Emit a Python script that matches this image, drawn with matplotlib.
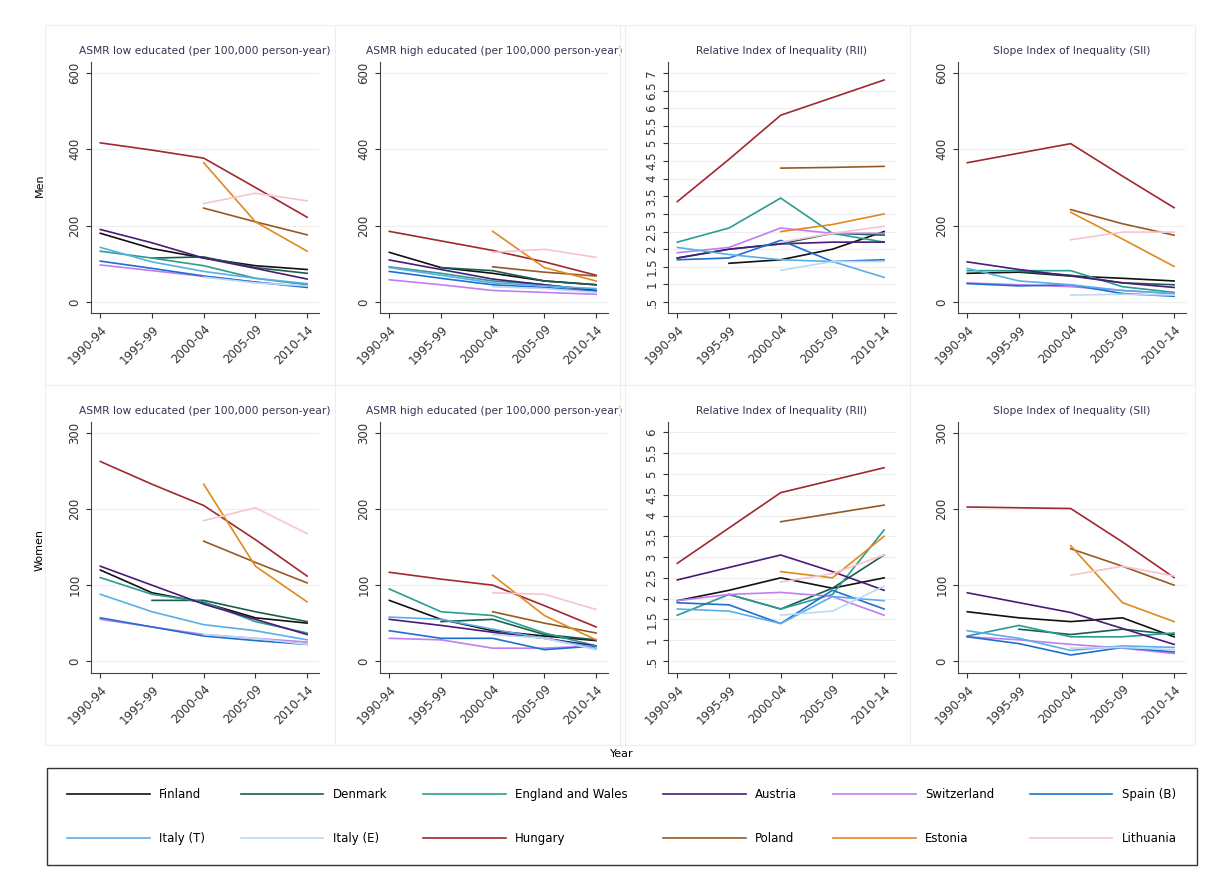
import numpy as np
import matplotlib.pyplot as plt
from matplotlib.patches import Rectangle

nan = np.nan
periods = ['1990-94', '1995-99', '2000-04', '2005-09', '2010-14']
countries = ['Finland', 'Denmark', 'England and Wales', 'Austria', 'Switzerland', 'Spain (B)',
             'Italy (T)', 'Italy (E)', 'Hungary', 'Poland', 'Estonia', 'Lithuania']
colors = ['#111111', '#1b5e50', '#2a9d8f', '#4a1a78', '#c27ef0', '#1f6fcf',
          '#5aaee8', '#bcd9f2', '#a0282e', '#955a22', '#e0891e', '#f6c3d0']

# men
men_low = [[180, 140, 115, 95, 85], [nan, 115, 118, 90, 75], [133, 115, 95, 62, 45],
           [190, 155, 115, 88, 60], [97, 82, 67, 52, 40], [107, 88, 68, 52, 38],
           [143, 105, 80, 62, 48], [nan, nan, 65, 50, 42], [417, 398, 377, 300, 222],
           [nan, nan, 246, 210, 176], [nan, nan, 365, 210, 133], [nan, nan, 258, 285, 265]]
men_high = [[130, 90, 75, 55, 45], [nan, 90, 82, 55, 45], [92, 75, 55, 45, 30],
            [110, 85, 60, 45, 30], [58, 45, 30, 25, 20], [80, 62, 45, 38, 28],
            [90, 70, 50, 42, 35], [nan, nan, 40, 35, 25], [185, 160, 135, 105, 70],
            [nan, nan, 92, 78, 68], [nan, nan, 185, 90, 55], [nan, nan, 130, 138, 117]]
men_rii = [[nan, 1.6, 1.7, 2.0, 2.5], [1.75, 2.0, 2.15, 2.45, 2.4], [2.2, 2.6, 3.45, 2.45, 2.2],
           [1.75, 2.0, 2.15, 2.2, 2.2], [1.9, 2.05, 2.6, 2.45, 2.45], [1.7, 1.75, 2.25, 1.65, 1.7],
           [2.05, 1.85, 1.7, 1.65, 1.2], [nan, nan, 1.4, 1.65, 1.65], [3.35, 4.55, 5.8, 6.3, 6.8],
           [nan, nan, 4.3, 4.32, 4.35], [nan, nan, 2.5, 2.7, 3.0], [nan, nan, 2.2, 2.45, 2.65]]
men_sii = [[75, 78, 68, 62, 55], [nan, 80, 70, 50, 45], [82, 82, 82, 40, 25],
           [105, 85, 68, 50, 38], [50, 45, 40, 30, 22], [48, 42, 45, 22, 15],
           [88, 55, 45, 30, 22], [nan, nan, 18, 20, 18], [365, 390, 415, 330, 247],
           [nan, nan, 242, 205, 175], [nan, nan, 235, 165, 93], [nan, nan, 163, 183, 183]]
# women
women_low = [[120, 90, 77, 57, 50], [nan, 80, 80, 65, 52], [110, 88, 78, 52, 37],
             [125, 100, 75, 55, 35], [55, 45, 35, 30, 25], [57, 45, 33, 27, 22],
             [88, 65, 48, 40, 28], [nan, nan, 35, 30, 22], [263, 233, 205, 160, 112],
             [nan, nan, 158, 130, 103], [nan, nan, 233, 125, 78], [nan, nan, 185, 202, 168]]
women_high = [[80, 55, 40, 33, 27], [nan, 52, 55, 35, 28], [95, 65, 60, 37, 20],
              [55, 47, 38, 30, 20], [30, 28, 17, 17, 20], [40, 30, 30, 15, 20],
              [58, 55, 42, 30, 17], [nan, nan, 35, 30, 15], [117, 108, 100, 73, 45],
              [nan, nan, 65, 50, 37], [nan, nan, 113, 60, 28], [nan, nan, 90, 88, 68]]
women_rii = [[1.95, 2.2, 2.5, 2.25, 2.5], [nan, 2.1, 1.75, 2.25, 3.05], [1.6, 2.1, 1.75, 2.1, 3.65],
             [2.45, 2.75, 3.05, 2.65, 2.2], [1.95, 2.1, 2.15, 2.05, 1.6], [1.9, 1.85, 1.4, 2.2, 1.75],
             [1.75, 1.7, 1.4, 2.05, 1.95], [nan, nan, 1.6, 1.7, 2.3], [2.85, 3.7, 4.55, 4.85, 5.15],
             [nan, nan, 3.85, 4.05, 4.25], [nan, nan, 2.65, 2.5, 3.5], [nan, nan, 2.4, 2.6, 3.05]]
women_sii = [[65, 57, 52, 57, 32], [nan, 42, 35, 42, 35], [33, 47, 32, 32, 37],
             [90, 77, 64, 43, 22], [32, 28, 22, 17, 10], [32, 23, 8, 18, 12],
             [40, 30, 14, 20, 18], [nan, nan, 17, 18, 15], [203, 202, 201, 157, 110],
             [nan, nan, 148, 125, 100], [nan, nan, 152, 77, 52], [nan, nan, 113, 125, 112]]

titles = ['ASMR low educated (per 100,000 person-year)', 'ASMR high educated (per 100,000 person-year)',
          'Relative Index of Inequality (RII)', 'Slope Index of Inequality (SII)']
rows = [[men_low, men_high, men_rii, men_sii], [women_low, women_high, women_rii, women_sii]]

W, H = 1209, 880
fig = plt.figure(figsize=(W / 100, H / 100), dpi=100)

# panel frames
for cx in [45, 335, 620, 910]:
    for cy in [25, 385]:
        w = (335 - 45) if cx != 910 else 285
        fig.add_artist(Rectangle((cx / W, 1 - (cy + 360) / H), w / W, 360 / H,
                                 transform=fig.transFigure, fill=False, ec='#eeeeee', lw=0.8))

col_left = [91, 380, 668, 958]
axw = 228
row_tb = [(62, 313), (422, 673)]
lines = []
for r in range(2):
    top, bot = row_tb[r]
    for c in range(4):
        ax = fig.add_axes([col_left[c] / W, 1 - bot / H, axw / W, (bot - top) / H])
        data = rows[r][c]
        for i, name in enumerate(countries):
            ln, = ax.plot(range(5), data[i], color=colors[i], lw=1.2, label=name)
            if r == 0 and c == 0:
                lines.append(ln)
        ax.set_xlim(-0.18, 4.23)
        if c == 2:
            if r == 0:
                ax.set_ylim(0.19, 7.31)
                yt = np.arange(0.5, 7.01, 0.5)
            else:
                ax.set_ylim(0.21, 6.25)
                yt = np.arange(0.5, 6.01, 0.5)
            ax.set_yticks(yt)
            ax.set_yticklabels([('%g' % v).lstrip('0') for v in yt])
        else:
            if r == 0:
                ax.set_ylim(-29, 629)
                ax.set_yticks([0, 200, 400, 600])
            else:
                ax.set_ylim(-15.7, 315)
                ax.set_yticks([0, 100, 200, 300])
        ax.set_xticks(range(5))
        ax.set_xticklabels(periods, rotation=45, ha='right', rotation_mode='anchor')
        for lab in ax.get_yticklabels():
            lab.set_rotation(90)
            lab.set_va('center')
        ax.tick_params(labelsize=8.5, colors='#333333')
        ax.grid(axis='y', color='#eeeeee', lw=0.8)
        ax.set_axisbelow(True)
        for s in ['top', 'right']:
            ax.spines[s].set_visible(False)
        for s in ['left', 'bottom']:
            ax.spines[s].set_color('#444444')
        ax.set_title(titles[c], fontsize=7.7, color='#333355', pad=6)

fig.text(40 / W, 1 - 185 / H, 'Men', rotation=90, va='center', ha='center', fontsize=8)
fig.text(40 / W, 1 - 550 / H, 'Women', rotation=90, va='center', ha='center', fontsize=8)
fig.text(622 / W, 1 - 754 / H, 'Year', ha='center', va='center', fontsize=8)

# legend filled row by row, like the original
order = [0, 6, 1, 7, 2, 8, 3, 9, 4, 10, 5, 11]
leg = fig.legend(handles=[lines[i] for i in order], loc='lower left',
                 bbox_to_anchor=(47 / W, 1 - 865 / H, 1150 / W, 98 / H), mode='expand', ncol=6,
                 handlelength=7, fontsize=8.5, frameon=True, fancybox=False,
                 edgecolor='black', labelspacing=2.6, borderpad=1.7, borderaxespad=0)
leg.get_frame().set_linewidth(1.0)

fig.savefig('out.png', dpi=100, facecolor='white')
